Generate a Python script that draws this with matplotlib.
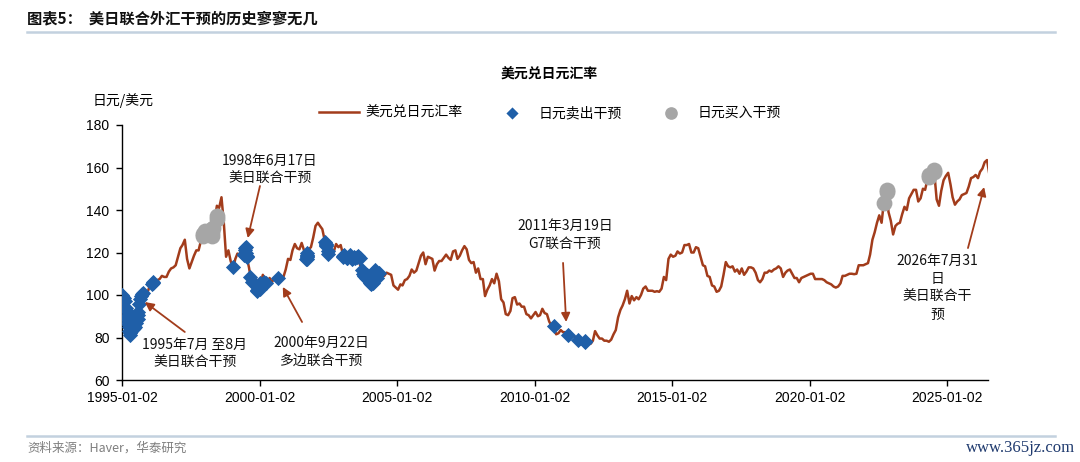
import matplotlib
matplotlib.use("Agg")
import matplotlib.pyplot as plt
import matplotlib.dates as mdates
from matplotlib.lines import Line2D
import pandas as pd
import numpy as np

# ---------------- data ----------------
rate_1995_1999 = [
    99.5, 98, 90, 82, 84, 84, 87.5, 94, 100, 100.5, 101.5, 102,
    105.5, 105.5, 106, 107, 107.5, 109, 108.5, 108.5, 111, 112.5, 113, 114,
    118, 122, 123.5, 126, 117, 112.5, 115.5, 118.5, 121, 121, 125.5, 128.5,
    129.5, 125.5, 129, 131, 135, 142, 141, 146, 134, 118, 121, 116,
    112.5, 117, 119.5, 119, 122, 120, 118, 113, 106.5, 106, 104.5, 102.5,
]
rate_2000_2004 = [
    105, 109.5, 107, 106, 108, 106, 108, 108, 107, 108.5, 108.5, 112,
    117, 116.5, 121, 124, 122, 121.5, 124.5, 121, 118, 121.5, 122.5, 127,
    132.5, 134, 132.5, 131, 126, 124, 118, 119, 120.5, 124, 122.5, 123.5,
    119, 119, 118.5, 119, 117.5, 118, 118, 116, 112, 109.5, 109, 107.5,
    106, 106, 110, 107, 112, 108.5, 109, 110.5, 110, 109.5, 104.5, 103.5,
]
rate_2005_2009 = [
    102.5, 105, 104.5, 107, 107.5, 109, 112, 110.5, 111.5, 115, 118.5, 120,
    114.5, 118, 117.5, 117, 111.5, 114.5, 116, 116, 117.5, 119, 117.5, 116.5,
    120.5, 121, 117, 118.5, 121, 123, 121.5, 116.5, 115, 115.5, 110.5, 112.5,
    107.5, 107.5, 99.5, 102.5, 104.5, 107.5, 105.5, 110, 106.5, 98, 96.5, 91,
    90.5, 92.5, 98.5, 99, 95.5, 96, 94.5, 94.5, 91, 90.5, 89, 90.5,
]
rate_2010_2014 = [
    92, 90, 90.5, 93.5, 91.5, 91, 87.5, 85.5, 85, 81.5, 82, 83.5,
    82.5, 82.5, 81, 83, 81, 80.5, 79, 76.5, 76.8, 77, 77.5, 77.5,
    77, 78.5, 83, 81, 79.5, 79.5, 78.5, 78.5, 78, 79, 81.5, 83.5,
    89.5, 93, 95, 98, 102, 96, 99.5, 97.5, 99, 98, 100, 103,
    104, 102, 102, 102, 101.5, 101.8, 101.5, 103, 108.5, 107, 117, 119,
]
rate_2015_2019 = [
    118, 118.5, 120.5, 119.5, 120, 123.5, 123.5, 124, 120, 120, 122.5, 122,
    118, 114, 113.5, 109, 108.5, 104.5, 104, 101.5, 102, 104, 109.5, 115.5,
    113.5, 113, 113.5, 111, 112, 110, 112.5, 109.5, 111, 113, 113, 112.5,
    110.5, 107, 106, 107.5, 110.5, 110.5, 111.5, 111, 112, 112.5, 113.5, 112.5,
    108.5, 110.5, 111.5, 112, 110, 108, 108, 106, 108, 108.5, 109, 109.5,
]
rate_2020_2026 = [
    110, 110, 107.5, 107.5, 107.5, 107.5, 107, 106, 105.5, 105, 104, 103.5,
    104, 105.5, 109, 109, 109.5, 110, 110, 109.8, 110, 114, 114, 114,
    114.5, 115, 119, 126, 129.5, 134, 137.5, 134, 144, 148.5, 139, 135,
    128.5, 132.5, 133.5, 134, 138, 141.5, 140, 145.5, 147.5, 149.5, 149.5, 144,
    145.5, 150, 149.5, 154.5, 156, 157.5, 157.5, 145, 142, 149, 154, 156,
    157.5, 152, 146, 142.5, 144, 145, 147, 147.5, 148, 151, 155, 155.5,
    156.5, 155, 158, 159.5, 162.5, 163.5, 157,
]

yen_sell_dates = [
    "1995-01-05", "1995-01-10", "1995-01-20", "1995-02-03", "1995-02-16", "1995-03-02",
    "1995-03-03", "1995-03-08", "1995-03-15", "1995-03-28", "1995-04-03", "1995-04-05",
    "1995-04-10", "1995-04-14", "1995-04-19", "1995-04-25", "1995-05-02", "1995-05-31",
    "1995-06-15", "1995-06-28", "1995-07-07", "1995-07-28", "1995-08-02", "1995-08-03",
    "1995-08-15", "1995-08-29", "1995-09-06", "1995-09-20", "1995-10-02",
    "1996-02-09", "1996-02-16", "1996-02-20",
    "1999-01-12", "1999-06-10", "1999-06-14", "1999-06-21", "1999-06-29", "1999-07-05",
    "1999-07-12", "1999-07-19", "1999-07-26", "1999-09-02", "1999-09-28", "1999-11-10",
    "1999-11-26", "1999-12-01", "2000-01-04", "2000-01-06", "2000-01-13", "2000-03-08",
    "2000-04-03",
    "2000-09-01",
    "2001-09-17", "2001-09-19", "2001-09-21", "2001-09-24", "2001-09-26", "2001-09-27",
    "2002-05-22", "2002-05-28", "2002-05-31", "2002-06-04", "2002-06-24", "2002-06-28",
    "2003-01-15", "2003-01-17", "2003-02-03", "2003-03-05", "2003-03-10", "2003-04-15",
    "2003-05-08", "2003-05-15", "2003-05-22", "2003-06-09", "2003-06-17", "2003-07-15",
    "2003-08-05", "2003-08-22",
    "2003-09-22", "2003-10-02", "2003-10-15", "2003-11-05", "2003-11-18", "2003-12-01",
    "2003-12-12", "2004-01-05", "2004-01-09", "2004-01-15", "2004-01-26", "2004-02-05",
    "2004-02-16", "2004-02-24", "2004-03-01", "2004-03-05", "2004-03-10", "2004-03-16",
    "2004-04-10", "2004-05-05",
    "2010-09-15", "2011-03-18", "2011-08-04", "2011-10-31", "2011-11-01",
]
yen_sell_values = [
    100, 99, 98.5, 98.5, 97, 94,
    92.5, 90, 88.5, 87, 86, 85,
    83, 82, 81, 83, 84, 84,
    84.5, 85, 87, 88.5, 90.5, 92,
    96, 98, 99.5, 100.5, 101,
    105, 105.5, 106,
    113, 119, 119.5, 121, 122, 122.5,
    120, 118.5, 118, 108.5, 106, 104.5,
    102, 102.5, 103, 104.5, 105.5, 106,
    105.5,
    107.8,
    117, 118, 118.5, 117, 119, 120,
    125, 124, 123.5, 123, 120.5, 119.5,
    118.5, 118, 119, 117.5, 117.5, 119,
    117, 117.5, 117.5, 118, 117.5, 118,
    118.5, 117.5,
    112, 110, 109, 109.5, 108, 109.5,
    107.5, 106.5, 105.5, 106.5, 105, 106,
    105.5, 108, 109.5, 111, 112, 109,
    108, 110.5,
    85.5, 81, 79, 78, 78.5,
]

yen_buy_dates = [
    "1997-12-15", "1997-12-17", "1998-01-09", "1998-04-09", "1998-04-10", "1998-04-14",
    "1998-04-22", "1998-06-17", "1998-06-18",
    "2022-09-22", "2022-10-21", "2022-10-24",
    "2024-04-29", "2024-05-01", "2024-07-11", "2024-07-12",
]
yen_buy_values = [
    128, 128.5, 130, 129, 128, 131,
    131.5, 136, 137,
    143.2, 148.5, 149.5,
    155.5, 156.5, 158.8, 158,
]

tick_dates = ["1995-01-02", "2000-01-02", "2005-01-02", "2010-01-02",
              "2015-01-02", "2020-01-02", "2025-01-02"]
y_ticks = [60, 80, 100, 120, 140, 160, 180]

# ---------------- build series ----------------
rate = (rate_1995_1999 + rate_2000_2004 + rate_2005_2009 +
        rate_2010_2014 + rate_2015_2019 + rate_2020_2026)
rate_dates = pd.date_range("1995-01-01", periods=len(rate), freq="MS") + pd.Timedelta(days=14)
sell_d = pd.to_datetime(yen_sell_dates)
buy_d = pd.to_datetime(yen_buy_dates)

CJK = ["Noto Sans CJK SC", "DejaVu Sans"]
LAT = ["Liberation Sans", "DejaVu Sans"]
LINE_C = "#a23c1b"
BLUE = "#1f5fa8"
GRAY = "#a6a6a6"

fig = plt.figure(figsize=(10.8, 4.62), dpi=100)
ax = fig.add_axes([122 / 1080, 1 - 380 / 462, (988 - 122) / 1080, (380 - 125) / 462])

ax.plot(rate_dates, rate, color=LINE_C, lw=1.8, zorder=2, label="美元兑日元汇率")
ax.scatter(sell_d, yen_sell_values, marker="D", s=60, color=BLUE, zorder=3,
           linewidths=0, label="日元卖出干预")
ax.scatter(buy_d, yen_buy_values, marker="o", s=130, color=GRAY, zorder=3,
           linewidths=0, label="日元买入干预")

ax.set_xlim(pd.Timestamp("1995-01-02"), pd.Timestamp("2026-06-28"))
ax.set_ylim(60, 180)
ax.set_yticks(y_ticks)
ax.set_xticks(pd.to_datetime(tick_dates))
ax.xaxis.set_major_formatter(mdates.DateFormatter("%Y-%m-%d"))
for s in ["top", "right"]:
    ax.spines[s].set_visible(False)
for s in ["left", "bottom"]:
    ax.spines[s].set_color("black")
    ax.spines[s].set_linewidth(1.0)
ax.tick_params(axis="both", direction="out", length=4, width=1, colors="black",
               labelsize=10)
ax.tick_params(axis="x", pad=4)
ax.tick_params(axis="y", pad=5)
for lab in ax.get_xticklabels() + ax.get_yticklabels():
    lab.set_family(LAT)

# legend
leg = ax.legend(loc="center", bbox_to_anchor=(0.494, 1.047), ncol=3, frameon=False,
                handlelength=2.9, handletextpad=0.45, columnspacing=2.1,
                markerscale=0.8, prop={"family": CJK, "size": 10})

# chart title and y label
fig.text(549 / 1080, 1 - 75 / 462, "美元兑日元汇率", ha="center", va="center",
         family=CJK, fontsize=10, fontweight="bold")
fig.text(93 / 1080, 1 - 101 / 462, "日元/美元", ha="left", va="center",
         family=CJK, fontsize=10)

# header & footer
fig.text(27 / 1080, 1 - 18 / 462, "图表5：  美日联合外汇干预的历史寥寥无几", ha="left",
         va="center", family=CJK, fontsize=11, fontweight="bold", color="#111111")
fig.add_artist(Line2D([27 / 1080, 1055 / 1080], [1 - 32 / 462] * 2,
                      color="#c3d1df", lw=1.8, transform=fig.transFigure))
fig.add_artist(Line2D([27 / 1080, 1055 / 1080], [1 - 436 / 462] * 2,
                      color="#c3d1df", lw=1.8, transform=fig.transFigure))
fig.text(27 / 1080, 1 - 448 / 462, "资料来源：Haver，华泰研究", ha="left", va="center",
         family=CJK, fontsize=9, color="#7f7f7f")
fig.text(1075 / 1080, 1 - 448 / 462, "www.365jz.com", ha="right", va="center",
         family=["Liberation Serif", "DejaVu Serif"], fontsize=12, color="#1f3a6e")

# annotations
def T(d):
    return mdates.date2num(pd.Timestamp(d))

notes = [
    ("1998年6月17日\n美日联合干预", ("2000-05-20", 158.8), ("2000-01-08", 151.3), ("1999-07-30", 126.8)),
    ("1995年7月 至8月\n美日联合干预", ("1997-08-25", 72.2), ("1997-04-15", 82.6), ("1995-11-01", 96.7)),
    ("2000年9月22日\n多边联合干预", ("2002-04-08", 73.4), ("2001-07-20", 87.3), ("2000-11-06", 103.8)),
    ("2011年3月19日\nG7联合干预", ("2011-02-10", 128.2), ("2011-01-15", 115.1), ("2011-02-25", 87.3)),
    ("2026年7月31\n日\n美日联合干\n预", ("2024-08-20", 103.3), ("2025-10-05", 122.1), ("2026-05-08", 150.8)),
]
for txt, tpos, tail, tip in notes:
    ax.text(T(tpos[0]), tpos[1], txt, ha="center", va="center", family=CJK,
            fontsize=10, linespacing=1.35, color="#111111", zorder=5)
    ax.annotate("", xy=(T(tip[0]), tip[1]), xytext=(T(tail[0]), tail[1]),
                arrowprops=dict(arrowstyle="-|>", color=LINE_C, lw=1.3,
                                mutation_scale=13, shrinkA=0, shrinkB=0),
                zorder=5)

fig.savefig("out.png", dpi=100)
